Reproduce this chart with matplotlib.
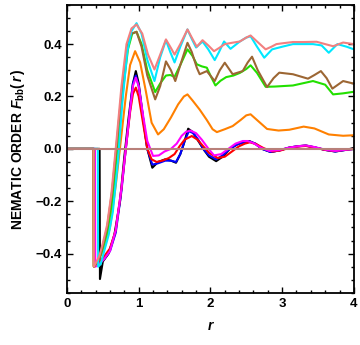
import matplotlib.pyplot as plt
from matplotlib.ticker import MultipleLocator

plt.rcParams['font.family'] = ['Liberation Sans', 'DejaVu Sans']
plt.rcParams['mathtext.fontset'] = 'custom'
plt.rcParams['mathtext.rm'] = 'Liberation Sans:bold'
plt.rcParams['mathtext.bf'] = 'Liberation Sans:bold'
plt.rcParams['mathtext.it'] = 'Liberation Sans:bold:italic'

# ---- data (r, F_bb(r)) ----
r_black = [0, 0.455, 0.46, 0.5, 0.58, 0.66, 0.74, 0.8, 0.86, 0.92, 0.96, 1.0, 1.06, 1.12,
           1.19, 1.27, 1.37, 1.45, 1.52, 1.58, 1.63, 1.69, 1.75, 1.82, 1.9, 1.98, 2.08, 2.17,
           2.27, 2.38, 2.46, 2.54, 2.62, 2.72, 2.84, 2.96, 3.1, 3.22, 3.33, 3.45, 3.6, 3.74,
           3.86, 3.95, 4.0]
f_black = [0, 0, -0.497, -0.43, -0.40, -0.33, -0.20, -0.03, 0.12, 0.25, 0.297, 0.25, 0.12, 0.0,
           -0.072, -0.05, -0.04, -0.045, -0.053, -0.02, 0.02, 0.077, 0.065, 0.035, 0.0, -0.03,
           -0.047, -0.03, 0.0, 0.018, 0.025, 0.03, 0.02, 0.0, -0.012, -0.006, 0.005, 0.01,
           0.013, 0.006, -0.004, -0.01, -0.005, 0.0, 0.004]

r_blue = [0, 0.38, 0.385, 0.45, 0.52, 0.6, 0.68, 0.76, 0.82, 0.88, 0.92, 0.96, 1.0, 1.06,
          1.12, 1.19, 1.27, 1.37, 1.45, 1.52, 1.58, 1.64, 1.7, 1.76, 1.83, 1.9, 1.98, 2.08,
          2.17, 2.27, 2.38, 2.47, 2.55, 2.63, 2.72, 2.84, 2.96, 3.1, 3.22, 3.33, 3.45, 3.6,
          3.74, 3.86, 4.0]
f_blue = [0, 0, -0.44, -0.43, -0.42, -0.39, -0.32, -0.16, 0.0, 0.15, 0.25, 0.28, 0.24, 0.12,
          0.0, -0.06, -0.055, -0.045, -0.045, -0.05, -0.02, 0.03, 0.068, 0.06, 0.035, 0.0,
          -0.025, -0.04, -0.025, 0.0, 0.018, 0.025, 0.028, 0.02, 0.0, -0.012, -0.006, 0.005,
          0.01, 0.012, 0.006, -0.004, -0.01, -0.005, 0.0]

r_red = [0, 0.37, 0.375, 0.45, 0.52, 0.6, 0.68, 0.76, 0.82, 0.88, 0.92, 0.96, 1.0, 1.06,
         1.12, 1.18, 1.25, 1.33, 1.42, 1.5, 1.57, 1.64, 1.74, 1.82, 1.9, 1.98, 2.1, 2.2, 2.3,
         2.4, 2.48, 2.55, 2.64, 2.74, 2.86, 2.98, 3.1, 3.22, 3.33, 3.45, 3.6, 3.74, 3.86, 4.0]
f_red = [0, 0, -0.447, -0.43, -0.41, -0.38, -0.31, -0.15, 0.0, 0.14, 0.21, 0.234, 0.2, 0.1,
         0.0, -0.04, -0.05, -0.045, -0.035, -0.02, 0.01, 0.035, 0.049, 0.035, 0.01, -0.015,
         -0.035, -0.03, -0.01, 0.01, 0.02, 0.025, 0.018, 0.003, -0.01, -0.006, 0.004, 0.009,
         0.011, 0.005, -0.004, -0.008, -0.004, 0.0]

r_magenta = [0, 0.39, 0.395, 0.45, 0.52, 0.6, 0.68, 0.76, 0.82, 0.88, 0.92, 0.96, 1.0, 1.06,
             1.12, 1.2, 1.28, 1.36, 1.45, 1.53, 1.6, 1.66, 1.72, 1.8, 1.88, 1.96, 2.05, 2.15,
             2.25, 2.35, 2.45, 2.52, 2.6, 2.7, 2.82, 2.95, 3.1, 3.22, 3.33, 3.45, 3.6, 3.74,
             3.86, 4.0]
f_magenta = [0, 0, -0.45, -0.44, -0.42, -0.39, -0.31, -0.15, 0.0, 0.15, 0.24, 0.272, 0.24, 0.13,
             0.03, -0.027, -0.025, -0.01, 0.0, 0.02, 0.05, 0.065, 0.07, 0.06, 0.035, 0.005,
             -0.025, -0.02, 0.0, 0.02, 0.03, 0.03, 0.022, 0.005, -0.008, -0.005, 0.005, 0.01,
             0.013, 0.007, -0.003, -0.008, -0.004, 0.0]

r_orange = [0, 0.37, 0.375, 0.45, 0.52, 0.6, 0.68, 0.75, 0.82, 0.88, 0.95, 1.02, 1.1, 1.18,
            1.27, 1.35, 1.45, 1.55, 1.63, 1.68, 1.75, 1.85, 1.95, 2.03, 2.09, 2.2, 2.31, 2.42,
            2.5, 2.56, 2.65, 2.79, 2.95, 3.1, 3.3, 3.45, 3.65, 3.85, 4.0]
f_orange = [0, 0, -0.45, -0.42, -0.38, -0.30, -0.14, 0.03, 0.2, 0.32, 0.373, 0.33, 0.22, 0.1,
            0.055, 0.075, 0.12, 0.17, 0.2, 0.208, 0.185, 0.15, 0.11, 0.075, 0.064, 0.075,
            0.087, 0.11, 0.128, 0.132, 0.11, 0.076, 0.07, 0.073, 0.085, 0.078, 0.055, 0.05,
            0.052]

r_green = [0, 0.37, 0.375, 0.45, 0.5, 0.57, 0.64, 0.71, 0.78, 0.85, 0.91, 0.97, 1.04, 1.12,
           1.23, 1.3, 1.38, 1.44, 1.5, 1.58, 1.68, 1.75, 1.81, 1.88, 1.95, 2.0, 2.07, 2.14,
           2.22, 2.32, 2.41, 2.5, 2.56, 2.65, 2.77, 2.9, 3.15, 3.43, 3.6, 3.71, 3.85, 4.0]
f_green = [0, 0, -0.45, -0.42, -0.38, -0.31, -0.18, 0.02, 0.22, 0.38, 0.44, 0.447, 0.4, 0.3,
           0.217, 0.25, 0.28, 0.282, 0.275, 0.32, 0.38, 0.355, 0.323, 0.315, 0.31, 0.28,
           0.242, 0.26, 0.274, 0.28, 0.29, 0.305, 0.319, 0.29, 0.237, 0.238, 0.242, 0.259,
           0.245, 0.208, 0.212, 0.218]

r_brown = [0, 0.37, 0.375, 0.45, 0.5, 0.56, 0.63, 0.7, 0.77, 0.84, 0.9, 0.97, 1.04, 1.12,
           1.23, 1.3, 1.38, 1.45, 1.51, 1.58, 1.68, 1.74, 1.81, 1.85, 1.95, 2.06, 2.13, 2.2,
           2.31, 2.45, 2.52, 2.58, 2.66, 2.79, 2.88, 2.96, 3.15, 3.36, 3.45, 3.54, 3.62, 3.7,
           3.85, 4.0]
f_brown = [0, 0, -0.45, -0.42, -0.37, -0.30, -0.16, 0.04, 0.24, 0.39, 0.44, 0.447, 0.39, 0.28,
           0.189, 0.24, 0.334, 0.3, 0.259, 0.32, 0.405, 0.37, 0.31, 0.285, 0.297, 0.259,
           0.3, 0.329, 0.285, 0.297, 0.33, 0.352, 0.3, 0.236, 0.27, 0.291, 0.285, 0.268,
           0.282, 0.297, 0.27, 0.23, 0.259, 0.249]

r_cyan = [0, 0.43, 0.435, 0.47, 0.52, 0.58, 0.64, 0.71, 0.77, 0.84, 0.9, 0.97, 1.04, 1.12,
          1.22, 1.3, 1.38, 1.44, 1.5, 1.58, 1.68, 1.74, 1.8, 1.89, 1.97, 2.06, 2.12, 2.19,
          2.28, 2.41, 2.5, 2.56, 2.65, 2.75, 2.86, 3.0, 3.15, 3.43, 3.55, 3.65, 3.77, 3.9,
          4.0]
f_cyan = [0, 0, -0.45, -0.44, -0.39, -0.33, -0.24, -0.05, 0.17, 0.37, 0.45, 0.48, 0.44, 0.34,
          0.259, 0.35, 0.415, 0.37, 0.33, 0.39, 0.456, 0.42, 0.387, 0.41, 0.38, 0.339, 0.37,
          0.41, 0.382, 0.41, 0.425, 0.43, 0.39, 0.348, 0.38, 0.39, 0.40, 0.40, 0.395, 0.367,
          0.40, 0.39, 0.38]

r_salmon = [0, 0.37, 0.375, 0.45, 0.5, 0.56, 0.62, 0.69, 0.76, 0.83, 0.9, 0.97, 1.05, 1.13,
            1.22, 1.3, 1.38, 1.45, 1.5, 1.58, 1.68, 1.75, 1.81, 1.89, 1.97, 2.05, 2.12, 2.2,
            2.3, 2.41, 2.5, 2.56, 2.65, 2.77, 2.85, 2.92, 3.0, 3.15, 3.3, 3.48, 3.6, 3.71,
            3.85, 4.0]
f_salmon = [0, 0, -0.45, -0.41, -0.36, -0.29, -0.17, 0.03, 0.24, 0.40, 0.46, 0.475, 0.44, 0.36,
            0.303, 0.36, 0.418, 0.385, 0.36, 0.40, 0.456, 0.42, 0.39, 0.415, 0.395, 0.373,
            0.385, 0.40, 0.405, 0.41, 0.425, 0.433, 0.41, 0.38, 0.39, 0.40, 0.403, 0.408,
            0.408, 0.409, 0.40, 0.392, 0.406, 0.40]

r_flat = [0, 4.0]
f_flat = [0, 0]

series = [
    (r_black, f_black, 'black'),
    (r_blue, f_blue, '#0000ff'),
    (r_red, f_red, '#ff0000'),
    (r_magenta, f_magenta, '#ff00ff'),
    (r_orange, f_orange, '#ff8000'),
    (r_green, f_green, '#22e000'),
    (r_brown, f_brown, '#9c6633'),
    (r_cyan, f_cyan, '#00e8ff'),
    (r_salmon, f_salmon, '#f28080'),
    (r_flat, f_flat, '#b8807a'),
]

fig = plt.figure(figsize=(3.6, 3.45), dpi=100)
ax = fig.add_axes([0.186, 0.151, 0.797, 0.835])

for r, f, c in series:
    ax.plot(r, f, color=c, lw=1.5, solid_joinstyle='round')

ax.set_xlim(0, 4)
ax.set_ylim(-0.55, 0.55)
ax.xaxis.set_major_locator(MultipleLocator(1))
ax.xaxis.set_minor_locator(MultipleLocator(0.2))
ax.yaxis.set_major_locator(MultipleLocator(0.2))
ax.yaxis.set_minor_locator(MultipleLocator(0.05))
ax.tick_params(which='both', direction='in', top=True, right=True, width=1.0)
ax.tick_params(which='major', length=4, labelsize=9.5)
ax.tick_params(which='minor', length=2)
for lab in ax.get_xticklabels() + ax.get_yticklabels():
    lab.set_fontweight('bold')
for sp in ax.spines.values():
    sp.set_linewidth(1.3)

ax.set_xlabel('r', fontsize=10, fontweight='bold', fontstyle='italic', labelpad=7)
ax.set_ylabel(r'NEMATIC ORDER $\it{F}_{\mathrm{bb}}\mathrm{(}\,\it{r}\,\mathrm{)}$',
              fontsize=10, fontweight='bold', labelpad=6)

fig.savefig('out.png', dpi=100)
